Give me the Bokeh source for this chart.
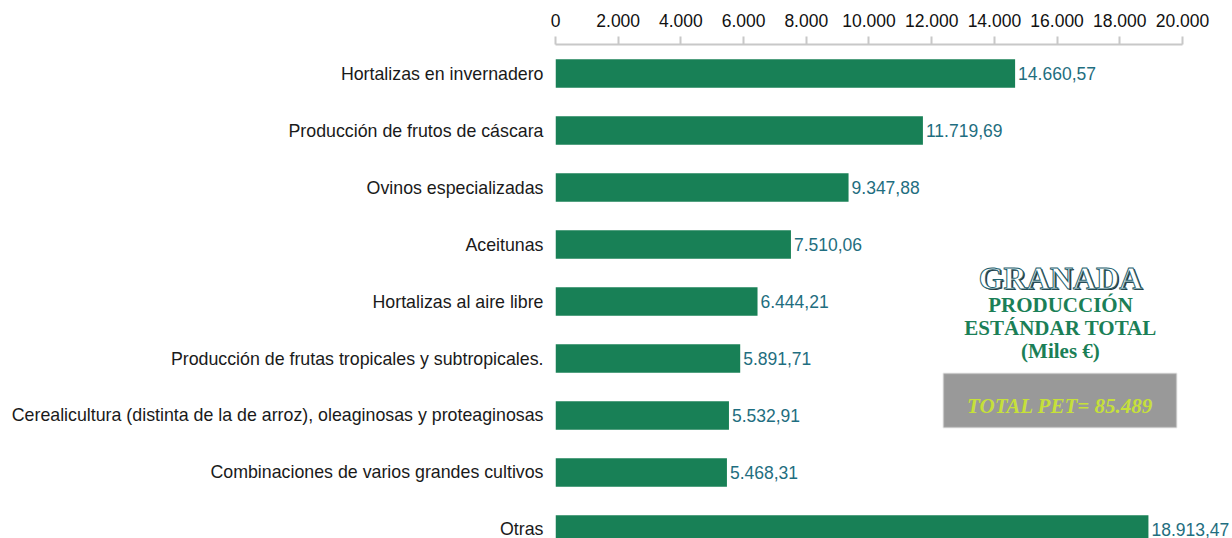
from bokeh.plotting import figure
from bokeh.models import (Range1d, FixedTicker, LinearAxis, Label, BoxAnnotation,
                          ColumnDataSource)
from bokeh.core.properties import value
from bokeh.embed import file_html
from bokeh.resources import INLINE

categories = [
    "Hortalizas en invernadero",
    "Producción de frutos de cáscara",
    "Ovinos especializadas",
    "Aceitunas",
    "Hortalizas al aire libre",
    "Producción de frutas tropicales y subtropicales.",
    "Cerealicultura (distinta de la de arroz), oleaginosas y proteaginosas",
    "Combinaciones de varios grandes cultivos",
    "Otras",
]
values = [14660.57, 11719.69, 9347.88, 7510.06, 6444.21, 5891.71, 5532.91, 5468.31, 18913.47]
x_ticks = [0, 2000, 4000, 6000, 8000, 10000, 12000, 14000, 16000, 18000, 20000]
x_tick_labels = ["0", "2.000", "4.000", "6.000", "8.000", "10.000", "12.000",
                 "14.000", "16.000", "18.000", "20.000"]


def es_fmt(v):
    s = f"{v:,.2f}"
    return s.replace(",", "X").replace(".", ",").replace("X", ".")


pos = list(range(len(categories)))
labels = [es_fmt(v) for v in values]
src = ColumnDataSource(dict(y=pos, v=values, lab=labels))

FONT = "Liberation Sans"
SERIF = "Liberation Serif"

p = figure(width=1232, height=538, output_backend="svg", toolbar_location=None,
           x_range=Range1d(0, 21595), y_range=Range1d(8.158, -0.509),
           x_axis_location=None, y_axis_location=None,
           min_border_left=555, min_border_right=0, min_border_top=44,
           min_border_bottom=0)
p.outline_line_color = None
p.xgrid.visible = False
p.ygrid.visible = False
p.background_fill_color = "white"
p.border_fill_color = "white"

xaxis = LinearAxis(ticker=FixedTicker(ticks=x_ticks), bounds=(0, 20000))
xaxis.major_label_overrides = {t: l for t, l in zip(x_ticks, x_tick_labels)}
xaxis.axis_line_color = "#c8c8c8"
xaxis.axis_line_width = 2
xaxis.major_tick_line_color = "#c8c8c8"
xaxis.major_tick_line_width = 2
xaxis.major_tick_out = 8
xaxis.major_tick_in = 0
xaxis.minor_tick_out = 0
xaxis.minor_tick_in = 0
xaxis.major_label_standoff = 10
xaxis.major_label_text_font = FONT
xaxis.major_label_text_font_size = "17.5px"
xaxis.major_label_text_color = "#111111"
p.add_layout(xaxis, "above")

yaxis = LinearAxis(ticker=FixedTicker(ticks=pos))
yaxis.major_label_overrides = {i: c for i, c in zip(pos, categories)}
yaxis.axis_line_color = None
yaxis.major_tick_line_color = None
yaxis.minor_tick_line_color = None
yaxis.major_tick_out = 0
yaxis.major_label_standoff = 12
yaxis.major_label_text_font = FONT
yaxis.major_label_text_font_size = "17.8px"
yaxis.major_label_text_color = "#1a1a1a"
p.add_layout(yaxis, "left")

p.hbar(y="y", left=0, right="v", height=0.5, source=src,
       fill_color="#188056", line_color=None)

p.text(x="v", y="y", text="lab", source=src, x_offset=3,
       text_font=value(FONT), text_font_size="17.5px", text_color="#1f6e80",
       text_baseline="middle", text_align="left")

# Title block
cx = 16108
p.add_layout(Label(x=cx, y=3.579, x_offset=1.5, y_offset=-1.5, text="GRANADA",
                   text_font=SERIF, text_font_style="bold", text_font_size="32px",
                   text_color="#333333", text_align="center", text_baseline="middle"))
p.add_layout(Label(x=cx, y=3.579, text="GRANADA", text_font=SERIF, text_font_style="bold",
                   text_font_size="32px", text_color="white", text_align="center",
                   text_baseline="middle", text_outline_color="#1d5f6e"))

for txt, yy in [("PRODUCCIÓN", 4.070), ("ESTÁNDAR TOTAL", 4.465), ("(Miles €)", 4.877)]:
    p.add_layout(Label(x=cx, y=yy, text=txt, text_font=SERIF, text_font_style="bold",
                       text_font_size="21px", text_color="#1b7f57", text_align="center",
                       text_baseline="middle"))

p.add_layout(BoxAnnotation(left=12376, right=19809, top=5.263, bottom=6.211,
                           fill_color="#999999", fill_alpha=1.0,
                           line_color="#c0c0c0", line_width=2))
p.add_layout(Label(x=16093, y=5.825, text="TOTAL PET= 85.489", text_font=SERIF,
                   text_font_style="bold italic", text_font_size="21px",
                   text_color="#c6e03a", text_align="center", text_baseline="middle"))

open("out.html", "w").write(file_html(p, INLINE))
